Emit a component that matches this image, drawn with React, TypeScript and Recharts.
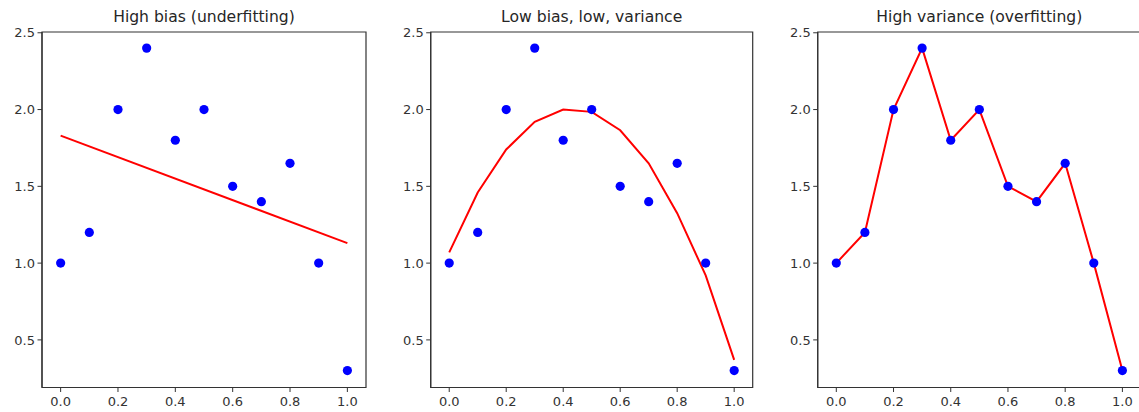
import React from "react";
import { ComposedChart, XAxis, YAxis, Scatter, Line, ReferenceArea } from "recharts";

const X_VALUES = [0, 0.1, 0.2, 0.3, 0.4, 0.5, 0.6, 0.7, 0.8, 0.9, 1.0];
const Y_VALUES = [1.0, 1.2, 2.0, 2.4, 1.8, 2.0, 1.5, 1.4, 1.65, 1.0, 0.3];
const LINEAR_X = [0, 1.0];
const LINEAR_Y = [1.83, 1.13];
const QUAD_Y = [1.07, 1.46, 1.74, 1.92, 2.0, 1.985, 1.865, 1.65, 1.325, 0.92, 0.37];
const X_TICKS = [0, 0.2, 0.4, 0.6, 0.8, 1.0];
const Y_TICKS = [0.5, 1.0, 1.5, 2.0, 2.5];
const TITLES = ["High bias (underfitting)", "Low bias, low, variance", "High variance (overfitting)"];

const points = X_VALUES.map((x, i) => ({ x, y: Y_VALUES[i] }));
const linearFit = LINEAR_X.map((x, i) => ({ x, y: LINEAR_Y[i] }));
const quadFit = X_VALUES.map((x, i) => ({ x, y: QUAD_Y[i] }));
const overFit = X_VALUES.map((x, i) => ({ x, y: Y_VALUES[i] }));

const FONT = "'DejaVu Sans', sans-serif";
const AXIS = "#333333";
const X_DOMAIN: [number, number] = [-0.065, 1.065];
const Y_DOMAIN: [number, number] = [0.19, 2.505];
const H = 412;
const TOP = 32;
const XAXIS_H = 24.5;

type PanelProps = {
  left: number;
  width: number;
  yAxisWidth: number;
  marginRight: number;
  title: string;
  lineData: { x: number; y: number }[];
};

const tickStyle = { fill: "#333333", fontSize: 13, fontFamily: FONT };

function Panel({ left, width, yAxisWidth, marginRight, title, lineData }: PanelProps) {
  const plotW = width - yAxisWidth - marginRight;
  return (
    <div style={{ position: "absolute", left, top: 0, width, height: H }}>
      <div
        style={{
          position: "absolute",
          left: yAxisWidth,
          width: plotW,
          top: 10,
          textAlign: "center",
          fontFamily: FONT,
          fontSize: 15.6,
          lineHeight: "15.6px",
          color: "#262626",
          whiteSpace: "nowrap",
        }}
      >
        {title}
      </div>
      <ComposedChart
        width={width}
        height={H}
        margin={{ top: TOP, right: marginRight, bottom: 0, left: 0 }}
      >
        <XAxis
          dataKey="x"
          type="number"
          domain={X_DOMAIN}
          allowDataOverflow
          ticks={X_TICKS}
          tickFormatter={(v: number) => v.toFixed(1)}
          height={XAXIS_H}
          tickSize={4.5}
          tickMargin={5}
          tick={tickStyle}
          stroke={AXIS}
          axisLine={{ stroke: AXIS, strokeWidth: 1.2 }}
          tickLine={{ stroke: AXIS }}
        />
        <YAxis
          type="number"
          domain={Y_DOMAIN}
          allowDataOverflow
          ticks={Y_TICKS}
          tickFormatter={(v: number) => v.toFixed(1)}
          width={yAxisWidth}
          tickSize={4.5}
          tickMargin={2.5}
          tick={tickStyle}
          stroke={AXIS}
          axisLine={{ stroke: AXIS, strokeWidth: 1.2 }}
          tickLine={{ stroke: AXIS }}
        />
        <ReferenceArea
          x1={X_DOMAIN[0]}
          x2={X_DOMAIN[1]}
          y1={Y_DOMAIN[0]}
          y2={Y_DOMAIN[1]}
          fill="none"
          fillOpacity={0}
          stroke={AXIS}
          strokeWidth={1.2}
          strokeOpacity={1}
          ifOverflow="visible"
        />
        <Scatter
          data={points}
          dataKey="y"
          isAnimationActive={false}
          shape={(p: any) => <circle cx={p.cx} cy={p.cy} r={4.6} fill="#0000ff" />}
        />
        <Line
          data={lineData}
          dataKey="y"
          type="linear"
          stroke="#ff0000"
          strokeWidth={2}
          dot={false}
          activeDot={false}
          isAnimationActive={false}
        />
      </ComposedChart>
    </div>
  );
}

export default function App() {
  return (
    <div
      style={{
        position: "absolute",
        left: 0,
        top: 0,
        width: 1139,
        height: H,
        overflow: "hidden",
        background: "#ffffff",
      }}
    >
      <Panel left={0} width={380} yAxisWidth={42} marginRight={14} title={TITLES[0]} lineData={linearFit} />
      <Panel left={380} width={380} yAxisWidth={50.7} marginRight={7.3} title={TITLES[1]} lineData={quadFit} />
      <Panel left={760} width={381} yAxisWidth={57.7} marginRight={0} title={TITLES[2]} lineData={overFit} />
    </div>
  );
}
